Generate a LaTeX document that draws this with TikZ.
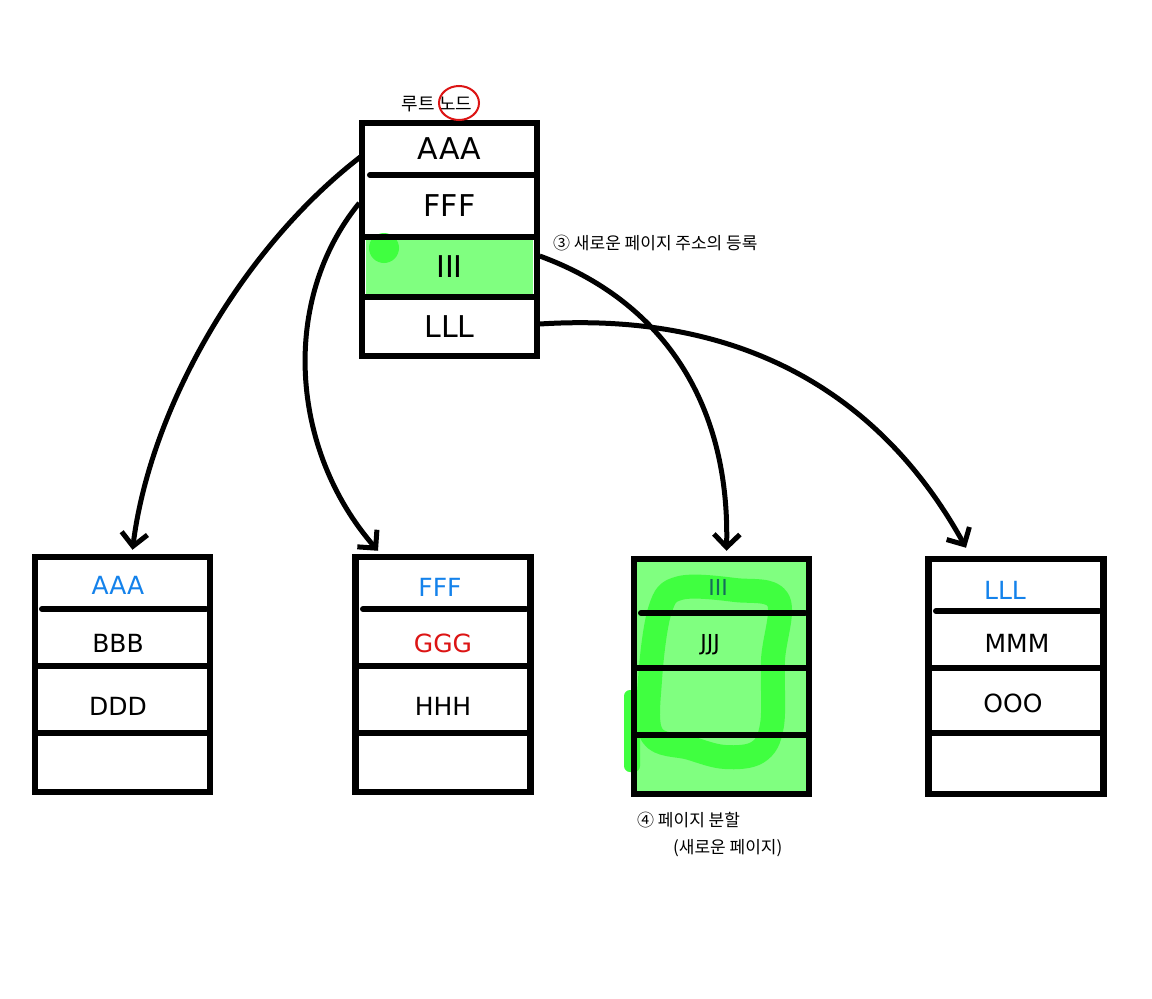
\documentclass[tikz,border=0pt]{standalone}
\usepackage{fontspec}
\setmainfont{DejaVu Sans}
\newfontfamily\kr{Noto Sans CJK KR}
\usetikzlibrary{arrows.meta,calc}
\definecolor{lgreen}{RGB}{128,255,128}
\definecolor{bgreen}{RGB}{64,255,64}
\definecolor{pblue}{RGB}{20,130,235}
\definecolor{pred}{RGB}{220,20,20}
\definecolor{pteal}{RGB}{20,110,90}
\tikzset{
  box/.style={draw=black, line width=6.5pt, rectangle, inner sep=0pt, minimum width=175pt},
  rowtxt/.style={inner sep=0pt, minimum width=170pt, font=\fontsize{30}{30}\selectfont},
  leaftxt/.style={inner sep=0pt, font=\fontsize{25}{25}\selectfont},
  divider/.style={line width=6pt, line cap=butt},
  conn/.style={line width=5pt, -{Straight Barb[length=13pt,width=26pt,line width=5pt]}},
  note/.style={inner sep=0pt, font=\kr\fontsize{17}{20}\selectfont},
}
\begin{document}
\begin{tikzpicture}[x=1pt,y=-1pt]
\useasboundingbox[fill=white] (0,0) rectangle (1152,999);

% ---------- root ----------
\fill[lgreen] (366,237) rectangle (533,294);
\fill[bgreen] (384,248) circle (15);
\node[box, minimum height=233pt] (root) at (449.5,239.5) {};
\draw[divider, line cap=round] (370,175) -- (534,175);
\draw[divider] (362,237) -- (537,237);
\draw[divider] (362,297) -- (537,297);
\node[rowtxt, minimum height=52pt] (r1) at (449.5,149) {AAA};
\node[rowtxt, minimum height=60pt] (r2) at (449.5,206) {FFF};
\node[rowtxt, minimum height=58pt] (r3) at (449.5,267) {III};
\node[rowtxt, minimum height=57pt] (r4) at (449.5,327) {LLL};

\node[note, font=\kr\fontsize{18}{20}\selectfont] (rootlbl) at (437,104) {루트 노드};
\draw[pred, line width=2pt] (459,103) ellipse (20 and 17);

% ---------- leaf 1 ----------
\node[box, minimum height=235pt] (leaf1) at (122.5,674.5) {};
\draw[divider, line cap=round] (42,609) -- (206,609);
\draw[divider] (35,666) -- (210,666);
\draw[divider] (35,733) -- (210,733);
\node[leaftxt, text=pblue] (l1a) at (118,585) {AAA};
\node[leaftxt] (l1b) at (118,643) {BBB};
\node[leaftxt] (l1c) at (118,706) {DDD};

% ---------- leaf 2 ----------
\node[box, minimum height=235pt] (leaf2) at (443,674.5) {};
\draw[divider, line cap=round] (363,609) -- (526,609);
\draw[divider] (356,666) -- (530,666);
\draw[divider] (356,733) -- (530,733);
\node[leaftxt, text=pblue] (l2a) at (440,587) {FFF};
\node[leaftxt, text=pred] (l2b) at (443,643) {GGG};
\node[leaftxt] (l2c) at (443,706) {HHH};

% ---------- leaf 3 (new page) ----------
\fill[lgreen] (634,559) rectangle (809,794);
\fill[bgreen, rounded corners=6pt] (624,690) rectangle (640,772);
\draw[bgreen, line width=24pt, line join=round]
  plot[smooth cycle, tension=0.6] coordinates {(680,588) (735,590) (778,600) (773,660) (772,725) (758,752) (725,757) (690,748) (652,735) (650,680) (660,610)};
\node[box, minimum height=235pt] (leaf3) at (721.5,676.5) {};
\draw[divider, line cap=round] (641,613) -- (805,613);
\draw[divider] (634,668) -- (809,668);
\draw[divider] (634,735) -- (809,735);
\node[leaftxt, text=pteal, font=\fontsize{22}{22}\selectfont] (l3a) at (718,587) {III};
\node[leaftxt, font=\fontsize{22}{22}\selectfont] (l3b) at (710,645) {JJJ};

% ---------- leaf 4 ----------
\node[box, minimum height=235pt] (leaf4) at (1016,676.5) {};
\draw[divider, line cap=round] (936,611) -- (1099,611);
\draw[divider] (929,668) -- (1103,668);
\draw[divider] (929,733) -- (1103,733);
\node[leaftxt, text=pblue] (l4a) at (1005,590) {LLL};
\node[leaftxt] (l4b) at (1017,643) {MMM};
\node[leaftxt] (l4c) at (1013,703) {OOO};

% ---------- connectors ----------
\draw[conn] ($(r1.west)+(-4,8)$) .. controls (240,250) and (150,410) .. ($(leaf1.north)+(10,-4)$);
\draw[conn] ($(r2.west)+(-5,-3)$) .. controls (280,300) and (290,450) .. ($(leaf2.north)+(-65,-3)$);
\draw[conn] ($(r3.east)+(5,-11)$) .. controls (660,300) and (730,400) .. ($(leaf3.north)+(5,-5)$);
\draw[conn] ($(r4.east)+(5,-3)$) .. controls (760,310) and (890,410) .. ($(leaf4.north)+(-50,-8)$);

% ---------- notes ----------
\node[note, anchor=west] (n3) at (553,243) {③ 새로운 페이지 주소의 등록};
\node[note, anchor=west] (n4a) at (637,820) {④ 페이지 분할};
\node[note, anchor=west] (n4b) at (673,848) {(새로운 페이지)};
\end{tikzpicture}
\end{document}
